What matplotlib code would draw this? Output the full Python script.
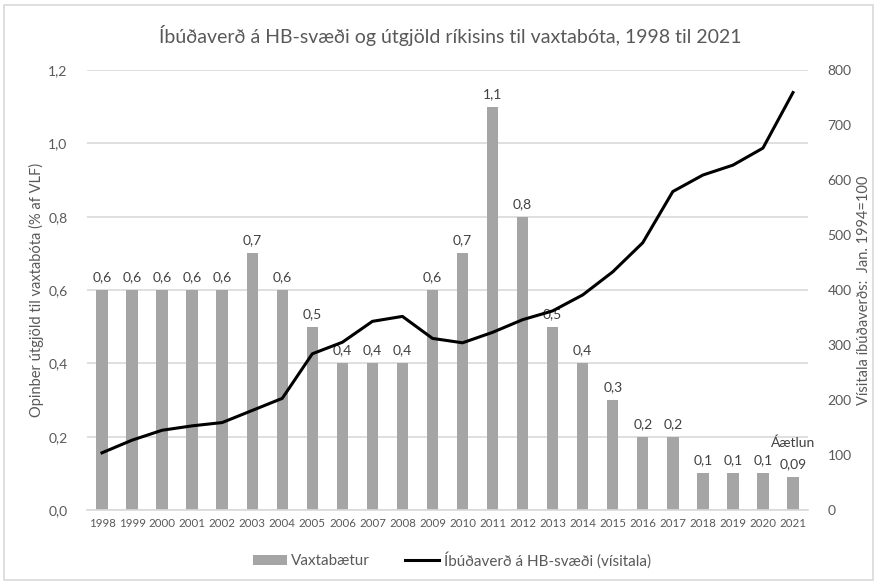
import matplotlib
matplotlib.use("Agg")
import matplotlib.pyplot as plt
from matplotlib.ticker import FuncFormatter, MultipleLocator
from matplotlib.patches import Rectangle
from matplotlib.lines import Line2D
from matplotlib.patches import Patch

plt.rcParams["font.family"] = ["Lato", "DejaVu Sans"]

# data
years = list(range(1998, 2022))
vaxtabaetur = [0.6, 0.6, 0.6, 0.6, 0.6, 0.7, 0.6, 0.5, 0.4, 0.4, 0.4, 0.6,
               0.7, 1.1, 0.8, 0.5, 0.4, 0.3, 0.2, 0.2, 0.1, 0.1, 0.1, 0.09]
visitala = [104, 127, 145, 153, 159, 181, 203, 284, 305, 343, 352, 312,
            304, 323, 346, 362, 391, 433, 486, 579, 609, 627, 658, 759]

BAR = "#a5a5a5"; GRID = "#d9d9d9"; TXT = "#595959"; LBL = "#404040"

fig = plt.figure(figsize=(8.78, 5.84), dpi=100)
fig.patch.set_facecolor("white")
ax = fig.add_axes([87/878, 1-510/584, 721/878, 440/584])
ax2 = ax.twinx()

x = list(range(len(years)))
bars = ax.bar(x, vaxtabaetur, width=0.38, color=BAR, zorder=2)
ax2.plot(x, visitala, color="black", lw=2.2, zorder=3)

ax.set_xlim(-0.5, len(years) - 0.5)
ax.set_ylim(0, 1.2)
ax2.set_ylim(0, 800)
ax.yaxis.set_major_locator(MultipleLocator(0.2))
ax2.yaxis.set_major_locator(MultipleLocator(100))
ax.yaxis.set_major_formatter(FuncFormatter(lambda v, p: f"{v:.1f}".replace(".", ",")))
ax.grid(axis="y", color=GRID, lw=1.2, zorder=0)
ax.set_axisbelow(True)

ax.set_xticks(x)
ax.set_xticklabels([str(y) for y in years], fontsize=8.3, color=TXT)
for a in (ax, ax2):
    for s in a.spines.values():
        s.set_visible(False)
    a.tick_params(length=0, colors=TXT)
ax.spines["bottom"].set_visible(True)
ax.spines["bottom"].set_color(GRID)
ax.spines["bottom"].set_linewidth(1.2)
ax.tick_params(axis="y", labelsize=10, pad=14)
ax2.tick_params(axis="y", labelsize=10, pad=14)
ax.tick_params(axis="x", pad=6)

ax.set_ylabel("Opinber útgjöld til vaxtabóta (% af VLF)", fontsize=10.5, color=TXT, labelpad=3)
ax2.set_ylabel("Vísitala íbúðaverðs:  Jan. 1994=100", fontsize=10.5, color=TXT, labelpad=4)

for xi, v in zip(x, vaxtabaetur):
    ax.annotate(f"{v:g}".replace(".", ","), (xi, v), xytext=(0, 5),
                textcoords="offset points", ha="center", va="bottom",
                fontsize=10, color=LBL, zorder=1)
ax.annotate("Áætlun", (x[-1], vaxtabaetur[-1]), xytext=(0, 20),
            textcoords="offset points", ha="center", va="bottom",
            fontsize=10, color=LBL)

fig.text(450/878, 1-35/584, "Íbúðaverð á HB-svæði og útgjöld ríkisins til vaxtabóta, 1998 til 2021",
         ha="center", va="center", fontsize=14, color=TXT)

handles = [Patch(facecolor=BAR, edgecolor="none", label="Vaxtabætur"),
           Line2D([0], [0], color="black", lw=2.2, label="Íbúðaverð á HB-svæði (vísitala)")]
fig.legend(handles=handles, loc="center", bbox_to_anchor=(452/878, 1-560/584), ncol=2,
           frameon=False, fontsize=11, labelcolor=TXT, handlelength=2.2, handleheight=0.6,
           columnspacing=2.3, handletextpad=0.3)

fig.add_artist(Rectangle((4/878, 4/584), 1-9/878, 1-9/584, transform=fig.transFigure,
                         fill=False, edgecolor=GRID, lw=1.2))

fig.savefig("out.png", dpi=100, facecolor="white")
